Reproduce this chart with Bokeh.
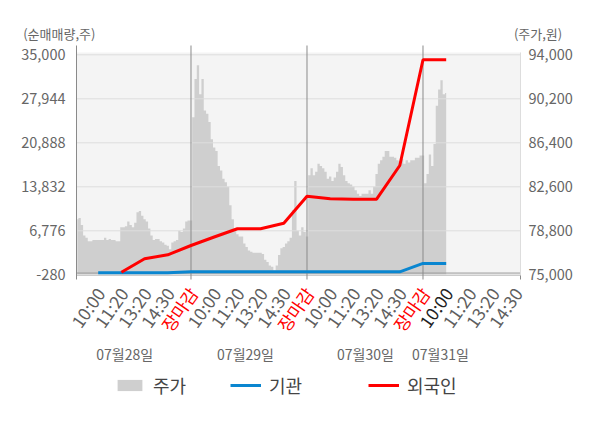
import numpy as np
from bokeh.plotting import figure
from bokeh.models import (ColumnDataSource, Range1d, BoxAnnotation, Legend, LegendItem)
from bokeh.core.properties import value
from bokeh.embed import file_html
from bokeh.resources import INLINE

FONT = "Noto Sans CJK KR"

# ---------------- data ----------------
day_labels = ["07월28일", "07월29일", "07월30일", "07월31일"]
day_label_pos = [2.14, 7.35, 12.52, 15.75]
day_bounds = [5, 10, 15]

tick_pos = list(range(1, 20))
tick_text = ["10:00", "11:20", "13:20", "14:30", "장마감"] * 3 + ["10:00", "11:20", "13:20", "14:30"]
tick_color = (["#5f5f5f"] * 4 + ["#ff0000"]) * 3 + ["#222222", "#5f5f5f", "#5f5f5f", "#5f5f5f"]

left_ticks = [-280, 6776, 13832, 20888, 27944, 35000]
right_ticks = [75000, 78800, 82600, 86400, 90200, 94000]

# net buying at each time slot (10:00, 11:20, 13:20, 14:30, close per day)
slots = list(range(1, 17))
foreign = [np.nan, 140, 2290, 2930, 4420,
           5780, 7100, 7100, 7990, 12320,
           11910, 11840, 11840, 17250, 34200,
           34200]
institution = [40, 40, 40, 40, 200,
               200, 200, 200, 200, 200,
               200, 200, 200, 200, 1550,
               1550]

# stock price (intraday, sampled) per day
price_d1 = [79800, 79900, 79300, 78400, 78200, 77900, 77900, 78000, 78000, 78000,
            78000, 78000, 78200, 78000, 78100, 78000, 78000, 77900, 77900, 79100,
            79100, 79200, 79600, 79300, 79100, 79500, 80400, 80500, 80100, 79800,
            79600, 79000, 78400, 78000, 78100, 78100, 77900, 77800, 77600, 77500,
            77200, 77800, 77900, 78000, 78800, 78700, 79000, 79600, 79700, 79700]
price_d2 = [88600, 91900, 93100, 90600, 91900, 89200, 88900, 88200, 86700, 86000,
            85700, 84400, 84000, 83300, 83000, 82600, 81000, 79800, 78800, 78500,
            78300, 78300, 77700, 77400, 77100, 77000, 76900, 76900, 76900, 76900,
            76800, 76300, 76100, 75800, 75700, 75400, 75800, 76700, 77300, 77400,
            77700, 77900, 78200, 80600, 83100, 78800, 78400, 79100, 78700, 78300]
price_d3 = [83600, 84200, 83600, 83900, 84600, 84400, 84200, 83900, 83300, 83500,
            83100, 83400, 83900, 84600, 84300, 83600, 83100, 82900, 82800, 82600,
            82300, 82000, 81800, 82000, 82000, 82000, 82300, 82000, 82600, 83700,
            84600, 84900, 85200, 85700, 85700, 85200, 85200, 85100, 84900, 84800,
            85000, 84600, 84900, 84700, 84900, 84900, 85100, 85100, 85300, 85300]
price_d4 = [82900, 83700, 85400, 84400, 86300, 89600, 91000, 91800, 90600, 90700]

price_days = [price_d1, price_d2, price_d3, price_d4]
px, py = [], []
for d, arr in enumerate(price_days):
    for i, v in enumerate(arr):
        px.append(round(5 * d + 0.1 * (i + 1), 2))
        py.append(v)

# ---------------- layout (pixels) ----------------
W, H = 600, 428
X0, X1, YT, YB = 76, 520, 52, 275          # plot region
SLOT_PX = 23.2                               # pixels per time slot
XS0 = 0.065                                  # slot at left edge
Y_TOPTICK, Y_BOTTICK = 54.3, 274.3           # pixel rows of the first/last tick
lscale = (left_ticks[-1] - left_ticks[0]) / (Y_BOTTICK - Y_TOPTICK)
pscale = (right_ticks[-1] - right_ticks[0]) / (Y_BOTTICK - Y_TOPTICK)

def xv(pxl):
    return XS0 + (pxl - X0) / SLOT_PX

def yl(pyl):
    return left_ticks[0] + (Y_BOTTICK - pyl) * lscale

def yp(pyl):
    return right_ticks[0] + (Y_BOTTICK - pyl) * pscale

p = figure(width=W, height=H, output_backend="svg", toolbar_location=None,
           x_range=Range1d(xv(0), xv(W)), y_range=Range1d(yl(H), yl(0)),
           x_axis_type=None, y_axis_type=None,
           min_border=0, min_border_left=0, min_border_right=0,
           min_border_top=0, min_border_bottom=0,
           background_fill_color="white", border_fill_color="white",
           outline_line_color=None)
p.extra_y_ranges = {"price": Range1d(yp(H), yp(0))}

XL, XR = xv(X0), xv(X1)

# plot background
p.add_layout(BoxAnnotation(left=XL, right=XR, bottom=yl(YB), top=yl(YT),
                           fill_color="#f4f4f4", fill_alpha=1, line_color=None,
                           level="image"))

# price area
src_p = ColumnDataSource(dict(x=px, y=py))
area = p.varea_step(x="x", y1=right_ticks[0], y2="y", step_mode="center", source=src_p,
                    y_range_name="price", fill_color="#cfcfcf")

# horizontal grid lines
p.segment(x0=[XL] * len(left_ticks), x1=[XR] * len(left_ticks),
          y0=left_ticks, y1=left_ticks, line_color="#dddddd", line_width=1)
# bottom edge + zero line
p.segment(x0=[XL], x1=[XR], y0=[yl(YB)], y1=[yl(YB)], line_color="#cccccc", line_width=1)
p.segment(x0=[XL], x1=[XR], y0=[0], y1=[0], line_color="#9a9a9a", line_width=1)
# day boundaries & left axis line (extend slightly beyond plot)
vx = [XL] + day_bounds
p.segment(x0=vx, x1=vx, y0=[yl(45)] * len(vx), y1=[yl(279)] * len(vx),
          line_color="#8a8a8a", line_width=1)
# right axis line and end tick
p.segment(x0=[XR], x1=[XR], y0=[yl(YT)], y1=[yl(YB)], line_color="#dddddd", line_width=1)
p.segment(x0=[XR], x1=[XR], y0=[yl(YB)], y1=[yl(279)], line_color="#8a8a8a", line_width=1)

# lines
src_l = ColumnDataSource(dict(x=np.array(slots, dtype=float),
                              foreign=np.array(foreign, dtype=float),
                              inst=np.array(institution, dtype=float)))
blue = p.line("x", "inst", source=src_l, line_color="#0a86d0", line_width=3)
red = p.line("x", "foreign", source=src_l, line_color="#ff0000", line_width=3)

# y tick labels
p.text(x=[XL] * len(left_ticks), y=left_ticks, text=[f"{t:,}" for t in left_ticks],
       x_offset=-11, text_align="right", text_baseline="middle",
       text_font=value(FONT), text_font_size=value("14.5px"), text_color="#666666")
p.text(x=[XR] * len(right_ticks), y=right_ticks, text=[f"{t:,}" for t in right_ticks],
       y_range_name="price", x_offset=8, text_align="left", text_baseline="middle",
       text_font=value(FONT), text_font_size=value("14.5px"), text_color="#666666")

# time tick labels
src_t = ColumnDataSource(dict(x=tick_pos, y=[yl(289)] * len(tick_pos),
                              text=tick_text, color=tick_color))
p.text(x="x", y="y", text="text", source=src_t, angle=55, angle_units="deg",
       x_offset=2, text_align="right", text_baseline="middle", text_color="color",
       text_font=value(FONT), text_font_size=value("17.5px"))

# date labels
src_d = ColumnDataSource(dict(x=day_label_pos, y=[yl(353)] * len(day_labels), text=day_labels))
p.text(x="x", y="y", text="text", source=src_d, text_align="center",
       text_baseline="middle", text_color="#666666",
       text_font=value(FONT), text_font_size=value("14px"))

# axis titles
p.text(x=[xv(22.7)], y=[yl(33.3)], text=["(순매매량,주)"], text_align="left",
       text_baseline="middle", text_color="#666666",
       text_font=value(FONT), text_font_size=value("13px"))
p.text(x=[xv(561.7)], y=[yl(33.3)], text=["(주가,원)"], text_align="right",
       text_baseline="middle", text_color="#666666",
       text_font=value(FONT), text_font_size=value("13px"))

# legends
def make_legend(label, rend, loc):
    lg = Legend(items=[LegendItem(label=label, renderers=[rend])], location=loc,
                orientation="horizontal", glyph_width=31, glyph_height=14,
                label_standoff=8, label_text_font=FONT, label_text_font_size="18px",
                label_text_color="#444444", padding=0, margin=0, spacing=0,
                border_line_color=None, background_fill_alpha=0)
    p.add_layout(lg)

make_legend("주가", area, (114, 30))
make_legend("기관", blue, (230, 30))
make_legend("외국인", red, (368, 30))

open("out.html", "w").write(file_html(p, INLINE))
